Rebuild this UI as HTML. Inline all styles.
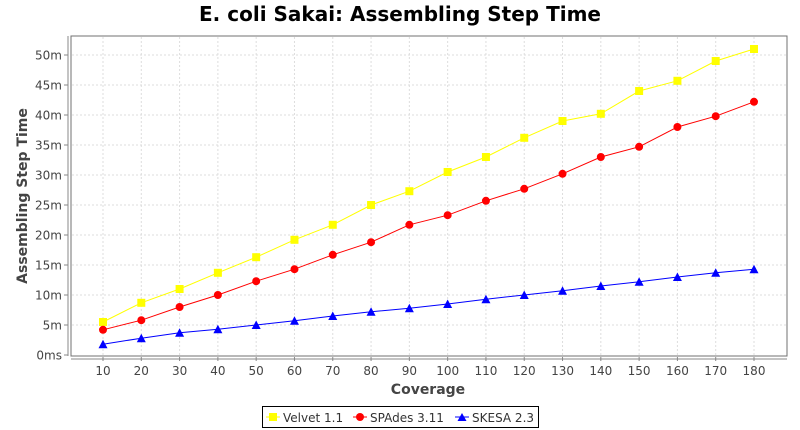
<!DOCTYPE html>
<html><head><meta charset="utf-8"><style>
body{margin:0;background:#fff;}
svg{display:block;font-family:"DejaVu Sans","Liberation Sans",sans-serif;}
</style></head><body>
<svg id="c" width="800" height="430" xmlns="http://www.w3.org/2000/svg">
<rect width="800" height="430" fill="#fff"/>
<text x="400" y="21" text-anchor="middle" font-size="20" font-weight="bold" fill="#000">E. coli Sakai: Assembling Step Time</text>
<rect x="71" y="36" width="716" height="320" fill="#fff" stroke="#707070" stroke-width="1"/>
<g id="grid"></g>
<g id="axes"></g>
<g id="series"></g>
<text x="428" y="394" text-anchor="middle" font-size="14" font-weight="bold" fill="#444">Coverage</text>
<text transform="translate(27,196) rotate(-90)" text-anchor="middle" font-size="14" font-weight="bold" fill="#444">Assembling Step Time</text>
<rect x="262.5" y="406.5" width="276" height="21" fill="#fff" stroke="#000"/>
<line x1="266" y1="417" x2="280" y2="417" stroke="#ffff00"/><rect x="269" y="413" width="8" height="8" fill="#ffff00"/>
<text x="283" y="422" font-size="12" fill="#333">Velvet 1.1</text>
<line x1="353" y1="417" x2="367" y2="417" stroke="#ff0000"/><circle cx="360" cy="417" r="4" fill="#ff0000"/>
<text x="370" y="422" font-size="12" fill="#333">SPAdes 3.11</text>
<line x1="455" y1="417" x2="469" y2="417" stroke="#0000ff"/><polygon points="462,413 466.5,421 457.5,421" fill="#0000ff"/>
<text x="472" y="422" font-size="12" fill="#333">SKESA 2.3</text>
</svg>
<script>
const ns="http://www.w3.org/2000/svg";
function el(p,t,a,txt){const e=document.createElementNS(ns,t);for(const k in a)e.setAttribute(k,a[k]);if(txt)e.textContent=txt;document.getElementById(p).appendChild(e);return e;}
const X=v=>103+(v-10)*(754-103)/170, Y=v=>355-v*6;
for(let i=1;i<=18;i++){const x=X(i*10);el('grid','line',{x1:x,y1:37,x2:x,y2:355,stroke:'#ddd','stroke-dasharray':'2,2'});
el('axes','line',{x1:x,y1:357,x2:x,y2:361,stroke:'#888'});
el('axes','text',{x:x,y:375,'text-anchor':'middle','font-size':12,fill:'#444'},String(i*10));}
for(let m=0;m<=50;m+=5){const y=Y(m);if(m>0)el('grid','line',{x1:72,y1:y,x2:786,y2:y,stroke:'#ddd','stroke-dasharray':'2,2'});
el('axes','line',{x1:64,y1:y,x2:68,y2:y,stroke:'#888'});
el('axes','text',{x:62,y:y+4.5,'text-anchor':'end','font-size':12,fill:'#444'},m==0?'0ms':m+'m');}
el('axes','line',{x1:68,y1:36,x2:68,y2:356,stroke:'#888'});
el('axes','line',{x1:71,y1:359,x2:787,y2:359,stroke:'#888'});
const V=[5.5,8.7,11,13.7,16.3,19.2,21.7,25,27.3,30.5,33,36.2,39,40.2,44,45.7,49,51];
const S=[4.2,5.8,8,10,12.3,14.3,16.7,18.8,21.7,23.3,25.7,27.7,30.2,33,34.7,38,39.8,42.2];
const K=[1.8,2.8,3.7,4.3,5,5.7,6.5,7.2,7.8,8.5,9.3,10,10.7,11.5,12.2,13,13.7,14.3];
function ser(d,c,shape){el('series','polyline',{points:d.map((v,i)=>X(10+i*10)+','+Y(v)).join(' '),fill:'none',stroke:c});
d.forEach((v,i)=>{const x=X(10+i*10),y=Y(v);
if(shape=='s')el('series','rect',{x:x-4,y:y-4,width:8,height:8,fill:c});
else if(shape=='c')el('series','circle',{cx:x,cy:y,r:4,fill:c});
else el('series','polygon',{points:`${x},${y-4.5} ${x+4.5},${y+4} ${x-4.5},${y+4}`,fill:c});});}
ser(V,'#ffff00','s');ser(S,'#ff0000','c');ser(K,'#0000ff','t');
</script>
</body></html>
